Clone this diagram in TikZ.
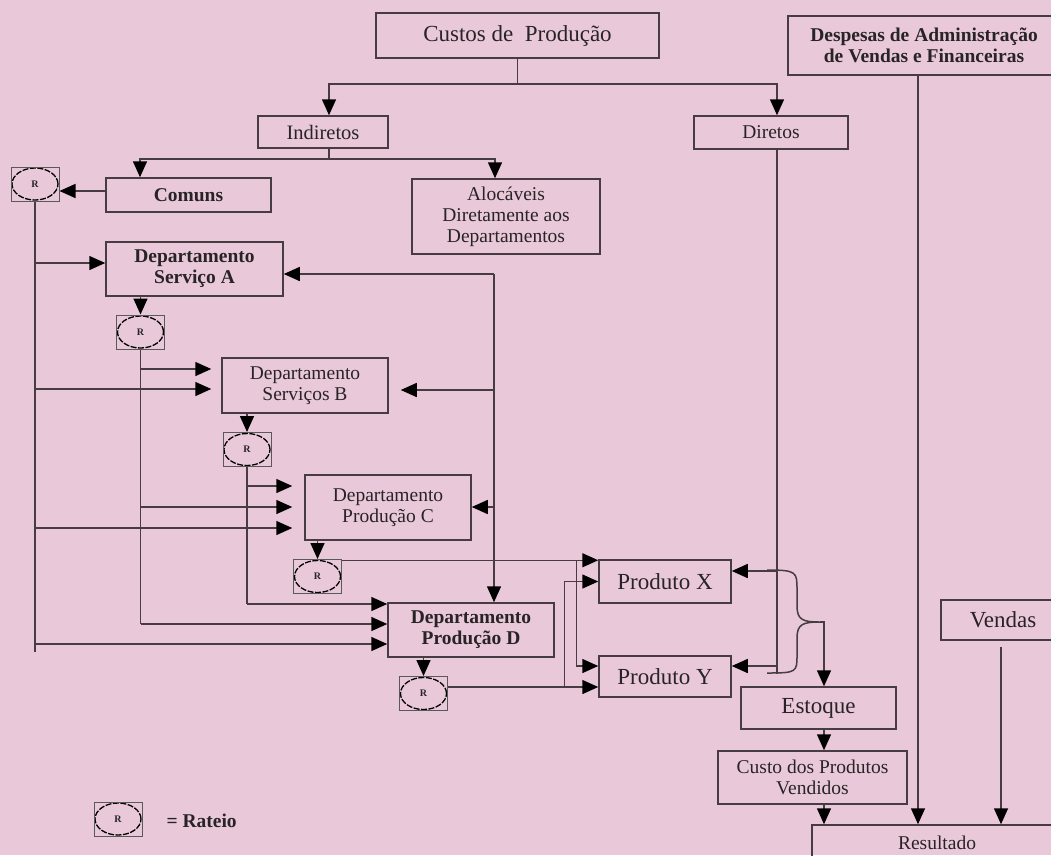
\documentclass[tikz,border=0pt]{standalone}
\usepackage{fontspec}
\setmainfont{Liberation Serif}
\usetikzlibrary{arrows.meta,calc}
\definecolor{bgpink}{RGB}{233,201,217}
\definecolor{lnc}{RGB}{70,60,65}
\definecolor{txc}{RGB}{40,35,38}
\begin{document}
\begin{tikzpicture}[x=1pt,y=-1pt,
  box/.style={draw=lnc, line width=1.5pt, text=txc, align=center, inner sep=0pt, font=\fontsize{19.5}{21}\selectfont},
  big/.style={font=\fontsize{23}{25}\selectfont},
  bld/.style={font=\fontsize{19.5}{21}\selectfont\bfseries},
  ln/.style={draw=lnc, line width=1.5pt},
  arr/.style={draw=lnc, line width=1.5pt, -{Triangle[length=16pt,width=14pt,color=black,fill=black]}},
  rnode/.style={draw=gray!70!black, line width=1pt, minimum width=48pt, minimum height=34pt, inner sep=0pt,
    font=\fontsize{10}{10}\selectfont\bfseries, text=txc,
    path picture={\draw[black, line width=1.3pt, dash pattern=on 6pt off 1.5pt] (path picture bounding box.center) ellipse [x radius=23pt, y radius=16pt];}}
]
\useasboundingbox (0,0) rectangle (1051,855);
\fill[bgpink] (0,0) rectangle (1051,855);
\clip (0,0) rectangle (1051,855);

% nodes
\node[box, big, minimum width=283pt, minimum height=45pt] (custos) at (517.5,35.5) {Custos de\ \ Produção};
\node[box, bld, minimum width=272pt, minimum height=59pt] (desp) at (924,45.5) {Despesas de Administração\\de Vendas e Financeiras};
\node[box, font=\fontsize{20.5}{22}\selectfont, minimum width=130pt, minimum height=32pt] (ind) at (323,132) {Indiretos};
\node[box, minimum width=154pt, minimum height=33pt] (dir) at (771,132.5) {Diretos};
\node[box, bld, minimum width=165pt, minimum height=34pt] (comuns) at (188.5,195) {Comuns};
\node[box, minimum width=188pt, minimum height=75pt] (aloc) at (506,216.5) {Alocáveis\\Diretamente aos\\Departamentos};
\node[box, bld, minimum width=177pt, minimum height=54pt] (dA) at (194.5,269) {Departamento\\Serviço A};
\node[box, minimum width=166pt, minimum height=55pt] (dB) at (305,385.5) {Departamento\\Serviços B};
\node[box, minimum width=166pt, minimum height=65pt] (dC) at (388,507.5) {Departamento\\Produção C};
\node[box, bld, minimum width=166pt, minimum height=54pt] (dD) at (471,630) {Departamento\\Produção D};
\node[box, big, minimum width=132pt, minimum height=43pt] (pX) at (665,581.5) {Produto X};
\node[box, big, minimum width=132pt, minimum height=41pt] (pY) at (665,676.5) {Produto Y};
\node[box, big, minimum width=155pt, minimum height=42pt] (est) at (818.5,708) {Estoque};
\node[box, minimum width=189pt, minimum height=53pt] (cpv) at (812.5,777.5) {Custo dos Produtos\\Vendidos};
\node[box, minimum width=250pt, minimum height=36pt] (res) at (937,843) {Resultado};
\node[box, big, minimum width=124pt, minimum height=40pt] (vendas) at (1003,620) {Vendas};

\node[rnode] (r1) at (35,184) {R};
\node[rnode] (r2) at (140.5,332) {R};
\node[rnode] (r3) at (247,449.5) {R};
\node[rnode] (r4) at (317.5,576.5) {R};
\node[rnode] (r5) at (423.5,693.5) {R};
\node[rnode] (rl) at (118,819) {R};
\node[anchor=west, text=txc, font=\fontsize{19.5}{21}\selectfont\bfseries] (rtxt) at (163,821) {= Rateio};

% top split
\coordinate (indN) at ([xshift=6pt]ind.north);
\coordinate (dirN) at ([xshift=6pt]dir.north);
\draw[arr] (custos.south) -- ++(0,25) -| (indN);
\draw[arr] (custos.south) -- ++(0,25) -| (dirN);

\coordinate (indS) at ([xshift=6pt]ind.south);
\coordinate (comN) at ([xshift=-48.5pt]comuns.north);
\coordinate (alocN) at ([xshift=-11pt]aloc.north);
\draw[arr] (indS) -- ++(0,10) -| (comN);
\draw[arr] (indS) -- ++(0,10) -| (alocN);

\coordinate (comW) at ([yshift=4pt]comuns.west);
\draw[arr] (comW) -- (comW -| r1.east);

% targets
\coordinate (aL) at ([yshift=6pt]dA.west);
\coordinate (bL1) at ([xshift=-10pt,yshift=16.5pt]dB.west);
\coordinate (bL2) at ([xshift=-10pt,yshift=-3.5pt]dB.west);
\coordinate (cL1) at ([xshift=-12pt,yshift=21.5pt]dC.west);
\coordinate (cL2) at ([xshift=-12pt,yshift=0.5pt]dC.west);
\coordinate (cL3) at ([xshift=-12pt,yshift=-20.5pt]dC.west);
\coordinate (dL1) at ([yshift=26pt]dD.west);
\coordinate (dL2) at ([yshift=6pt]dD.west);
\coordinate (dL3) at ([yshift=-14pt]dD.west);

% left trunk from R1
\draw[ln] (r1.south) -- (r1.south |- dL3) -- ++(0,8);
\draw[arr] (r1.south |- aL) -- (aL);
\draw[arr] (r1.south |- bL2) -- (bL2);
\draw[arr] (r1.south |- cL3) -- (cL3);
\draw[arr] (r1.south |- dL3) -- (dL3);

% R2 trunk
\draw[arr] (dA.south -| r2.north) -- (r2.north);
\draw[ln] (r2.south) -- (r2.south |- dL2);
\draw[arr] (r2.south |- bL1) -- (bL1);
\draw[arr] (r2.south |- cL2) -- (cL2);
\draw[arr] (r2.south |- dL2) -- (dL2);

% R3 trunk
\draw[arr] (dB.south -| r3.north) -- (r3.north);
\draw[ln] (r3.south) -- (r3.south |- dL1);
\draw[arr] (r3.south |- cL1) -- (cL1);
\draw[arr] (r3.south |- dL1) -- (dL1);

% right trunk
\coordinate (dTop) at ([xshift=23pt]dD.north);
\coordinate (aR) at ([yshift=-5pt]dA.east);
\coordinate (bR) at ([xshift=12pt,yshift=-4.5pt]dB.east);
\coordinate (cR) at ([yshift=0.5pt]dC.east);
\draw[arr] (dTop |- aR) -- (dTop);
\draw[arr] (dTop |- aR) -- (aR);
\draw[arr] (dTop |- bR) -- (bR);
\draw[arr] (dTop |- cR) -- (cR);

% R4, R5
\draw[arr] (dC.south -| r4.north) -- (r4.north);
\draw[arr] (dD.south -| r5.north) -- (r5.north);
\coordinate (xA) at ([yshift=-1pt]pX.north west);
\coordinate (yA) at ([yshift=10.5pt]pY.west);
\coordinate (yB) at ([yshift=-10.5pt]pY.west);
\draw[arr] (r4.east |- xA) -- (xA);
\draw[arr] ([xshift=-22pt]xA) |- (yA);
\draw[arr] (r5.east |- yB) -- (yB);
\draw[arr] ([xshift=-34pt]yB) |- (pX.west);

% Diretos trunk
\coordinate (dirS) at ([xshift=6pt]dir.south);
\coordinate (xR) at ([yshift=10.5pt]pX.east);
\coordinate (yR) at ([yshift=10.5pt]pY.east);
\draw[ln] (dirS) -- ++(0,524);
\draw[arr] (dirS |- xR) -- (xR);
\draw[arr] (dirS |- yR) -- (yR);

% brace
\coordinate (brtip) at (820,622);
\draw[ln] (767,570) .. controls (797,570) and (797,572) .. (797,590) -- (797,606)
  .. controls (797,620) and (803,622) .. (brtip)
  .. controls (803,622) and (797,624) .. (797,638) -- (797,655)
  .. controls (797,672) and (797,673) .. (767,673);
\coordinate (estN) at ([xshift=5.5pt]est.north);
\draw[arr] (brtip) -| (estN);
\draw[arr] (estN |- est.south) -- (estN |- cpv.north);
\draw[arr] (estN |- cpv.south) -- (estN |- res.north);

\coordinate (despS) at ([xshift=-6pt]desp.south);
\draw[arr] (despS) -- (despS |- res.north);
\coordinate (vendS) at ([xshift=-2pt,yshift=-6pt]vendas.south);
\draw[arr] (vendS) -- (vendS |- res.north);
\end{tikzpicture}
\end{document}
